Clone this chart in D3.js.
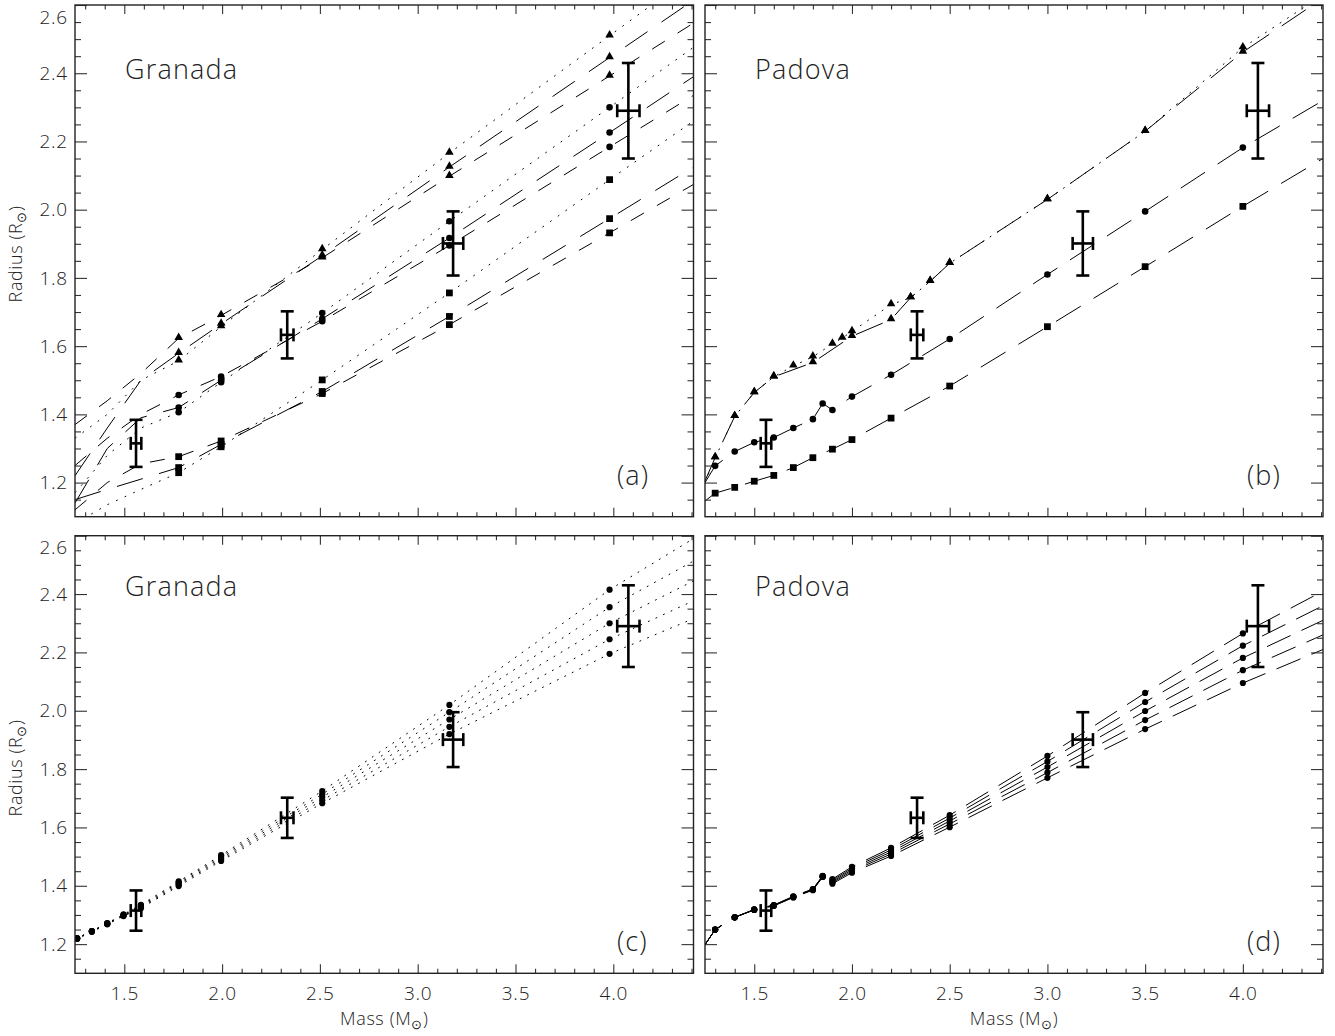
<!DOCTYPE html>
<html><head><meta charset="utf-8">
<script src="https://cdn.jsdelivr.net/npm/d3@7"></script>
<style>
body{margin:0;background:#fff;}
svg text{font-family:"Open Sans","DejaVu Sans",sans-serif;font-weight:300;fill:#222;}
</style></head><body>
<svg id="chart" width="1335" height="1036"></svg>
<script>
// ---------- axes ----------
const massDomain = [1.248, 4.41];
const radiusDomain = [1.1, 2.6];
const xMajorTicks = [1.5, 2.0, 2.5, 3.0, 3.5, 4.0];
const xMinorTicks = [1.3, 1.4, 1.6, 1.7, 1.8, 1.9, 2.1, 2.2, 2.3, 2.4, 2.6, 2.7, 2.8, 2.9, 3.1, 3.2, 3.3, 3.4, 3.6, 3.7, 3.8, 3.9, 4.1, 4.2, 4.3, 4.4];
const yMajorTicks = [1.2, 1.4, 1.6, 1.8, 2.0, 2.2, 2.4, 2.6];
const yMinorTicks = [1.15, 1.25, 1.3, 1.35, 1.45, 1.5, 1.55, 1.65, 1.7, 1.75, 1.85, 1.9, 1.95, 2.05, 2.1, 2.15, 2.25, 2.3, 2.35, 2.45, 2.5, 2.55];

// ---------- observed star (error bars, same in all panels) ----------
const obsMass = [1.560, 2.333, 3.181, 4.077];
const obsMassErr = [0.027, 0.032, 0.052, 0.057];
const obsRadius = [1.315, 1.633, 1.901, 2.290];
const obsRadiusErr = [0.069, 0.069, 0.094, 0.140];

// ---------- panel (a): Granada ----------
const granLineMass = [1.248, 1.413, 1.585, 1.778, 1.995, 2.512, 3.162, 3.981, 4.41];
const granSymbolMass = [1.778, 1.995, 2.512, 3.162, 3.981];
const granTriDotted = [1.33, 1.40, 1.50, 1.557, 1.657, 1.883, 2.166, 2.510, 2.69];
const granTriLong   = [1.22, 1.36, 1.50, 1.579, 1.665, 1.865, 2.125, 2.446, 2.614];
const granTriShort  = [1.37, 1.44, 1.52, 1.623, 1.690, 1.859, 2.098, 2.392, 2.547];
const granCirDotted = [1.17, 1.28, 1.36, 1.406, 1.494, 1.697, 1.966, 2.300, 2.476];
const granCirLong   = [1.14, 1.30, 1.39, 1.420, 1.500, 1.680, 1.917, 2.226, 2.390];
const granCirShort  = [1.25, 1.33, 1.40, 1.457, 1.511, 1.673, 1.895, 2.184, 2.335];
const granSqDotted  = [1.08, 1.135, 1.18, 1.229, 1.305, 1.501, 1.756, 2.088, 2.260];
const granSqLong    = [1.15, 1.18, 1.21, 1.244, 1.312, 1.467, 1.687, 1.974, 2.125];
const granSqShort   = [1.12, 1.20, 1.255, 1.276, 1.322, 1.461, 1.663, 1.932, 2.074];

// ---------- panel (b): Padova ----------
const padSqMass = [1.3, 1.4, 1.5, 1.6, 1.7, 1.8, 1.9, 2.0, 2.2, 2.5, 3.0, 3.5, 4.0];
const padSqRadius = [1.169, 1.186, 1.204, 1.221, 1.244, 1.273, 1.298, 1.326, 1.389, 1.483, 1.657, 1.833, 2.010];
const padSqEdge = [1.146, 2.150];
const padCirMass = [1.3, 1.4, 1.5, 1.6, 1.7, 1.8, 1.85, 1.9, 2.0, 2.2, 2.5, 3.0, 3.5, 4.0];
const padCirRadius = [1.249, 1.291, 1.318, 1.332, 1.360, 1.386, 1.432, 1.413, 1.452, 1.516, 1.621, 1.810, 1.995, 2.182];
const padCirEdge = [1.200, 2.320];
const padTri1Mass = [1.3, 1.4, 1.5, 1.6, 1.7, 1.8, 1.9, 1.95, 2.0, 2.2, 2.3, 2.4, 2.5, 3.0, 3.5, 4.0];
const padTri1Radius = [1.273, 1.394, 1.464, 1.510, 1.542, 1.569, 1.606, 1.624, 1.643, 1.722, 1.742, 1.790, 1.843, 2.030, 2.230, 2.475];
const padTri1Edge = [1.200, 2.630];
const padTri2Mass = [1.3, 1.4, 1.5, 1.6, 1.8, 2.0, 2.2, 2.3, 2.4, 2.5, 3.0, 3.5, 4.0];
const padTri2Radius = [1.273, 1.394, 1.464, 1.510, 1.552, 1.629, 1.678, 1.742, 1.790, 1.843, 2.030, 2.230, 2.462];
const padTri2Edge = [1.205, 2.620];

// ---------- panel (c): Granada, five models ----------
const granMassC = [1.259, 1.334, 1.413, 1.496, 1.585, 1.778, 1.995, 2.512, 3.162, 3.981];
const granC1 = [1.220, 1.245, 1.272, 1.302, 1.335, 1.415, 1.505, 1.725, 2.020, 2.415];
const granC2 = [1.220, 1.245, 1.271, 1.300, 1.332, 1.411, 1.500, 1.714, 1.995, 2.355];
const granC3 = [1.220, 1.244, 1.270, 1.299, 1.329, 1.407, 1.495, 1.704, 1.970, 2.300];
const granC4 = [1.219, 1.243, 1.269, 1.297, 1.326, 1.403, 1.490, 1.693, 1.945, 2.245];
const granC5 = [1.218, 1.242, 1.268, 1.296, 1.323, 1.399, 1.485, 1.683, 1.920, 2.195];
const granCEdges = [[1.216, 2.590], [1.216, 2.513], [1.216, 2.445], [1.215, 2.377], [1.214, 2.316]];

// ---------- panel (d): Padova, five models ----------
const padMassD = [1.3, 1.4, 1.5, 1.6, 1.7, 1.8, 1.85, 1.9, 2.0, 2.2, 2.5, 3.0, 3.5, 4.0];
const padD1 = [1.250, 1.292, 1.319, 1.334, 1.364, 1.389, 1.434, 1.423, 1.465, 1.530, 1.642, 1.845, 2.061, 2.265];
const padD2 = [1.250, 1.292, 1.318, 1.333, 1.363, 1.388, 1.433, 1.419, 1.460, 1.523, 1.632, 1.826, 2.030, 2.223];
const padD3 = [1.250, 1.292, 1.318, 1.333, 1.362, 1.387, 1.432, 1.415, 1.455, 1.516, 1.622, 1.807, 1.999, 2.181];
const padD4 = [1.250, 1.292, 1.318, 1.332, 1.361, 1.386, 1.431, 1.411, 1.450, 1.509, 1.612, 1.788, 1.968, 2.139];
const padD5 = [1.250, 1.292, 1.317, 1.331, 1.360, 1.385, 1.430, 1.407, 1.445, 1.502, 1.601, 1.770, 1.937, 2.095];
const padDEdges = [[1.198, 2.41], [1.198, 2.36], [1.198, 2.31], [1.198, 2.26], [1.198, 2.21]];

const panelNames = ['Granada', 'Padova', 'Granada', 'Padova'];
const panelTags = ['(a)', '(b)', '(c)', '(d)'];

// ---------- styles ----------
const dashes = {dotted: '1.8,7.6', long: '27,17', short: '15,15', padLong: '29,15', padDot: '1.8,7', dLong: '26,12', cDot: '1.8,6.5'};
const symSize = {triangle: 32, circle: 34, square: 46};

const svg = d3.select('#chart');
const layout = [
  {left: 75, top: 5, w: 618.5, h: 511.7, yLabels: true, xLabels: false},
  {left: 705, top: 5, w: 618, h: 511.7, yLabels: false, xLabels: false},
  {left: 75, top: 535.7, w: 618.5, h: 437.6, yLabels: true, xLabels: true},
  {left: 705, top: 535.7, w: 618, h: 437.6, yLabels: false, xLabels: true}
];

function full(m, r, edge) {
  return {lm: [massDomain[0], ...m, massDomain[1]], lr: [edge[0], ...r, edge[1]], sm: m, sr: r};
}
function partial(r) {
  return {lm: granLineMass, lr: r, sm: granSymbolMass, sr: r.slice(3, 8)};
}

const panelSeries = [
  [
    {...partial(granTriDotted), dash: 'dotted', sym: 'triangle'},
    {...partial(granTriLong), dash: 'long', sym: 'triangle'},
    {...partial(granTriShort), dash: 'short', sym: 'triangle'},
    {...partial(granCirDotted), dash: 'dotted', sym: 'circle'},
    {...partial(granCirLong), dash: 'long', sym: 'circle'},
    {...partial(granCirShort), dash: 'short', sym: 'circle'},
    {...partial(granSqDotted), dash: 'dotted', sym: 'square'},
    {...partial(granSqLong), dash: 'long', sym: 'square'},
    {...partial(granSqShort), dash: 'short', sym: 'square'}
  ],
  [
    {...full(padTri1Mass, padTri1Radius, padTri1Edge), dash: 'padDot', sym: 'triangle'},
    {...full(padTri2Mass, padTri2Radius, padTri2Edge), dash: 'padLong', sym: 'triangle'},
    {...full(padCirMass, padCirRadius, padCirEdge), dash: 'padLong', sym: 'circle'},
    {...full(padSqMass, padSqRadius, padSqEdge), dash: 'padLong', sym: 'square'}
  ],
  [granC1, granC2, granC3, granC4, granC5].map((r, i) => ({...full(granMassC, r, granCEdges[i]), dash: 'cDot', sym: 'circle', small: true})),
  [padD1, padD2, padD3, padD4, padD5].map((r, i) => ({...full(padMassD, r, padDEdges[i]), dash: 'dLong', sym: 'circle', small: true}))
];

const symType = {triangle: d3.symbolTriangle, circle: d3.symbolCircle, square: d3.symbolSquare};

layout.forEach((p, pi) => {
  const x = d3.scaleLinear().domain(massDomain).range([p.left, p.left + p.w]);
  const y = d3.scaleLinear().domain(radiusDomain).range([p.top + p.h, p.top]);
  const clipId = 'clip' + pi;
  svg.append('clipPath').attr('id', clipId).append('rect')
    .attr('x', p.left).attr('y', p.top).attr('width', p.w).attr('height', p.h);
  const g = svg.append('g');
  const plot = g.append('g').attr('clip-path', `url(#${clipId})`);
  const line = d3.line().x(d => x(d[0])).y(d => y(d[1]));

  panelSeries[pi].forEach(s => {
    plot.append('path')
      .attr('d', line(s.lm.map((m, i) => [m, s.lr[i]])))
      .attr('fill', 'none').attr('stroke', '#000').attr('stroke-width', 1)
      .attr('stroke-dasharray', dashes[s.dash]);
  });
  panelSeries[pi].forEach(s => {
    const sym = d3.symbol().type(symType[s.sym]).size(s.small ? 30 : symSize[s.sym]);
    plot.selectAll(null).data(s.sm.map((m, i) => [m, s.sr[i]])).enter().append('path')
      .attr('d', sym)
      .attr('transform', d => `translate(${x(d[0])},${y(d[1]) + (s.sym === 'triangle' ? -0.8 : 0)})`)
      .attr('fill', '#000');
  });

  // error bars
  const eb = g.append('g').attr('stroke', '#000').attr('stroke-width', 2.6).attr('fill', 'none');
  obsMass.forEach((m, i) => {
    const cx = x(m), cy = y(obsRadius[i]);
    const yt = y(obsRadius[i] + obsRadiusErr[i]), yb = y(obsRadius[i] - obsRadiusErr[i]);
    const xl = x(m - obsMassErr[i]), xr = x(m + obsMassErr[i]);
    eb.append('line').attr('x1', cx).attr('x2', cx).attr('y1', yt).attr('y2', yb);
    eb.append('line').attr('x1', cx - 6.5).attr('x2', cx + 6.5).attr('y1', yt).attr('y2', yt);
    eb.append('line').attr('x1', cx - 6.5).attr('x2', cx + 6.5).attr('y1', yb).attr('y2', yb);
    eb.append('line').attr('x1', xl).attr('x2', xr).attr('y1', cy).attr('y2', cy);
    eb.append('line').attr('x1', xl).attr('x2', xl).attr('y1', cy - 6.5).attr('y2', cy + 6.5);
    eb.append('line').attr('x1', xr).attr('x2', xr).attr('y1', cy - 6.5).attr('y2', cy + 6.5);
  });

  // axes (ticks inward)
  const fmt = d3.format('.1f');
  const ax = g.append('g').attr('class', 'axes');
  const styleAxis = sel => { sel.select('.domain').remove(); sel.selectAll('line').attr('stroke', '#333').attr('stroke-width', 1.1); sel.selectAll('text').attr('font-size', 19).attr('fill', '#222').style('letter-spacing', '0.8px'); };
  ax.append('g').attr('transform', `translate(0,${p.top + p.h})`)
    .call(d3.axisBottom(x).tickValues(xMajorTicks).tickSizeInner(-9).tickSizeOuter(0).tickPadding(13).tickFormat(p.xLabels ? fmt : () => ''))
    .call(styleAxis);
  ax.append('g').attr('transform', `translate(0,${p.top + p.h})`)
    .call(d3.axisBottom(x).tickValues(xMinorTicks).tickSizeInner(-4.5).tickSizeOuter(0).tickFormat(() => '')).call(styleAxis);
  ax.append('g').attr('transform', `translate(0,${p.top})`)
    .call(d3.axisTop(x).tickValues(xMajorTicks).tickSizeInner(-9).tickSizeOuter(0).tickFormat(() => '')).call(styleAxis);
  ax.append('g').attr('transform', `translate(0,${p.top})`)
    .call(d3.axisTop(x).tickValues(xMinorTicks).tickSizeInner(-4.5).tickSizeOuter(0).tickFormat(() => '')).call(styleAxis);
  const yl = ax.append('g').attr('transform', `translate(${p.left},0)`)
    .call(d3.axisLeft(y).tickValues(yMajorTicks).tickSizeInner(-12).tickSizeOuter(0).tickPadding(7).tickFormat(p.yLabels ? fmt : () => ''))
    .call(styleAxis);
  // the top label sits just below the frame corner, as in the reference
  yl.selectAll('.tick').filter(d => d === radiusDomain[1]).select('text').attr('dy', '0.95em');
  ax.append('g').attr('transform', `translate(${p.left},0)`)
    .call(d3.axisLeft(y).tickValues(yMinorTicks).tickSizeInner(-6).tickSizeOuter(0).tickFormat(() => '')).call(styleAxis);
  ax.append('g').attr('transform', `translate(${p.left + p.w},0)`)
    .call(d3.axisRight(y).tickValues(yMajorTicks).tickSizeInner(-12).tickSizeOuter(0).tickFormat(() => '')).call(styleAxis);
  ax.append('g').attr('transform', `translate(${p.left + p.w},0)`)
    .call(d3.axisRight(y).tickValues(yMinorTicks).tickSizeInner(-6).tickSizeOuter(0).tickFormat(() => '')).call(styleAxis);
  g.append('rect').attr('x', p.left).attr('y', p.top).attr('width', p.w).attr('height', p.h)
    .attr('fill', 'none').attr('stroke', '#222').attr('stroke-width', 1.4);

  // panel labels
  const bottomRow = pi >= 2;
  g.append('text').attr('x', p.left + 50).attr('y', bottomRow ? 596 : 79)
    .attr('font-size', 27).style('letter-spacing', '1.2px').text(panelNames[pi]);
  g.append('text').attr('x', p.left + 542).attr('y', bottomRow ? 951 : 485)
    .attr('font-size', 27).style('letter-spacing', '1px').text(panelTags[pi]);

  // axis titles
  if (p.xLabels) {
    const t = svg.append('text').attr('x', p.left + p.w / 2).attr('y', 1025)
      .attr('text-anchor', 'middle').attr('font-size', 18).style('letter-spacing', '0.6px');
    t.append('tspan').text('Mass (M');
    t.append('tspan').attr('font-size', 13).attr('dy', 4).text('⊙');
    t.append('tspan').attr('dy', -4).text(')');
  }
  if (p.yLabels) {
    const cy = bottomRow ? 768 : 254;
    const t = svg.append('text').attr('transform', `translate(22,${cy}) rotate(-90)`)
      .attr('text-anchor', 'middle').attr('font-size', 18).style('letter-spacing', '0.6px');
    t.append('tspan').text('Radius (R');
    t.append('tspan').attr('font-size', 13).attr('dy', 4).text('⊙');
    t.append('tspan').attr('dy', -4).text(')');
  }
});
</script></body></html>
